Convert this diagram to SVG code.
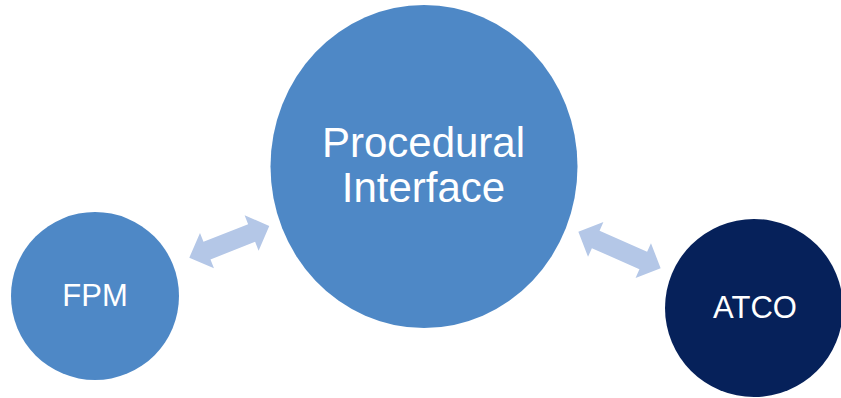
<svg xmlns="http://www.w3.org/2000/svg" width="841" height="398" viewBox="0 0 841 398">
<style>
.lbl{font-family:"Liberation Sans",Arial,sans-serif;fill:#FFFFFF;text-anchor:middle}
.blue{fill:#4E88C6}
.navy{fill:#06215A}
.arr{fill:#B4C7E7}
</style>
<rect width="841" height="398" fill="#FFFFFF"/>
<g id="connectors">
<path class="arr" transform="translate(229.3,241.8) rotate(-21.6)" d="M-43,0 L-24,-19 L-24,-9.5 L24,-9.5 L24,-19 L43,0 L24,19 L24,9.5 L-24,9.5 L-24,19 Z"/>
<path class="arr" transform="translate(619.5,250) rotate(23.9)" d="M-45,0 L-26,-19 L-26,-9.5 L26,-9.5 L26,-19 L45,0 L26,19 L26,9.5 L-26,9.5 L-26,19 Z"/>
</g>
<g id="procedural-interface">
<ellipse class="blue" cx="424" cy="166.5" rx="153.5" ry="161.5"/>
<text class="lbl" x="423.5" y="157" font-size="42">Procedural</text>
<text class="lbl" x="423.5" y="202" font-size="42">Interface</text>
</g>
<g id="fpm">
<circle class="blue" cx="95" cy="296" r="84"/>
<text class="lbl" x="95" y="306" font-size="31">FPM</text>
</g>
<g id="atco">
<circle class="navy" cx="754" cy="308" r="89"/>
<text class="lbl" x="755" y="318" font-size="31">ATCO</text>
</g>
</svg>
